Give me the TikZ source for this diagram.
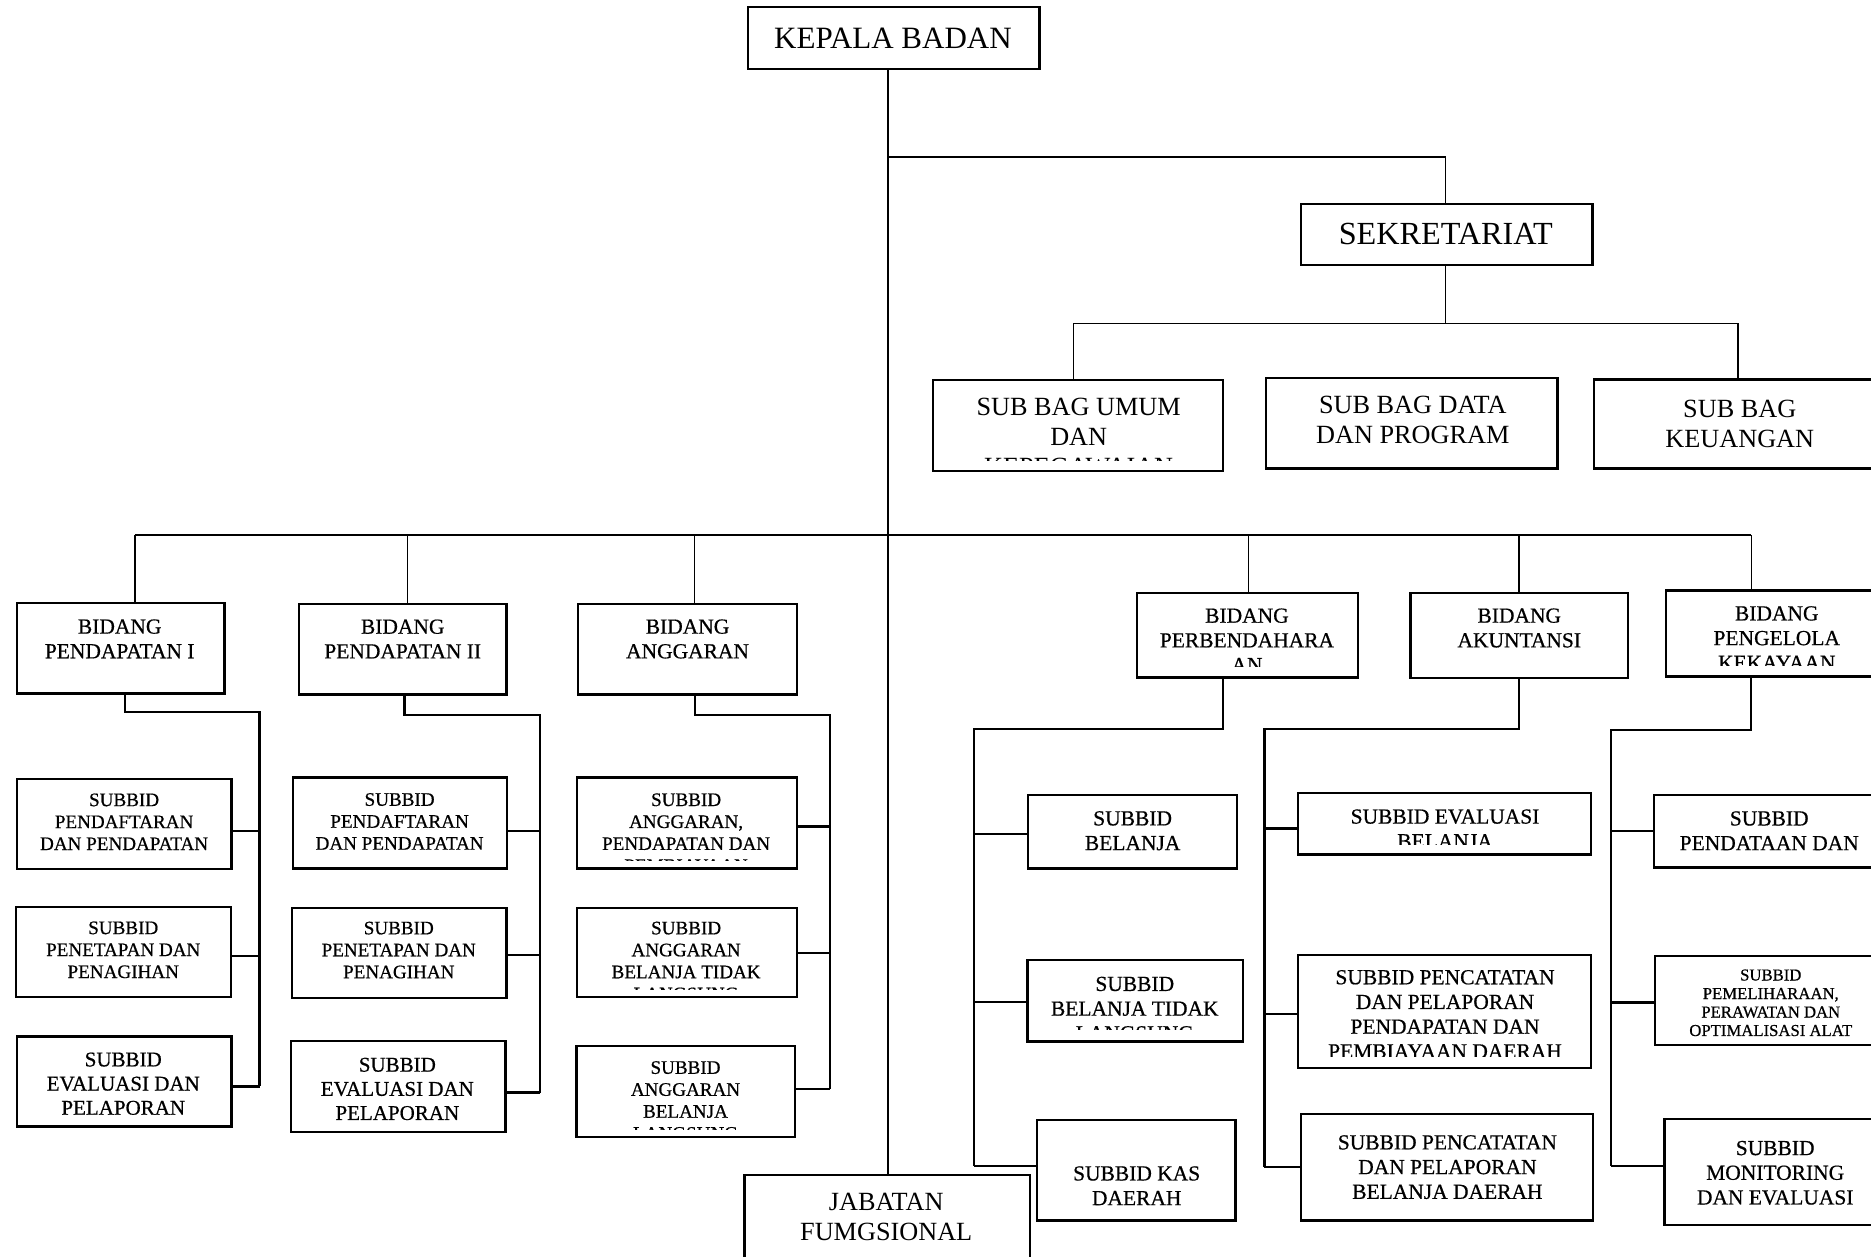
\documentclass[tikz,border=0pt]{standalone}
\usepackage{fontspec}
\setmainfont{Liberation Serif}
\newfontfamily\heavyser[FakeBold=0.6]{Liberation Serif}
\usetikzlibrary{fit}
\newcommand\obx[5]{\node[boxst, fit={(#2,#3) (#4,#5)}] (#1) {};}
\tikzset{
 boxst/.style={draw, line width=1pt, inner sep=0pt},
 lk/.style={line width=0.7pt},
 lkb/.style={line width=1pt},
 tx/.style={align=center, inner sep=0pt},
 fA/.style={tx, font=\fontsize{13}{15}\selectfont},
 fS/.style={tx, font=\fontsize{13.5}{15.5}\selectfont},
 fB/.style={tx, font=\fontsize{11}{12.65}\selectfont},
 fC/.style={tx, font=\heavyser\fontsize{9}{10.35}\selectfont},
 fD/.style={tx, font=\heavyser\fontsize{8}{9.2}\selectfont},
 fE/.style={tx, font=\heavyser\fontsize{8.8}{10.12}\selectfont},
 fF/.style={tx, font=\heavyser\fontsize{7}{7.75}\selectfont},
}
\begin{document}
\begin{tikzpicture}[x=0.5pt,y=-0.5pt]
\useasboundingbox (0,0) rectangle (1568,1053);
\fill[white] (0,0) rectangle (1568,1053);
\clip (0,0) rectangle (1568,1053);

% ---------- upper part ----------
\obx{kepala}{627}{6}{871}{58}
\node[fA] (kepalat) at (748.4,32.1) {KEPALA BADAN};
\obx{sekre}{1090.5}{171}{1334.6}{222}
\node[fS] (sekret) at (1211.6,196.5) {SEKRETARIAT};
\obx{umum}{782}{318.5}{1024.8}{394.5}
\begin{scope}
\clip (782,318.5) rectangle (1024.8,386);
\node[fB] (umumt) at (904,366.1) {SUB BAG UMUM\\DAN\\KEPEGAWAIAN};
\end{scope}
\obx{data}{1061}{317}{1305.2}{392.5}
\node[fB] (datat) at (1184,352) {SUB BAG DATA\\DAN PROGRAM};
\obx{keu}{1335.9}{318}{1600}{392.5}
\node[fB] (keut) at (1458,355.2) {SUB BAG\\KEUANGAN};

\obx{jab}{623.8}{984.8}{863.2}{1080}
\node[fB] (jabt) at (742.7,1019.8) {JABATAN\\FUMGSIONAL};

\coordinate (tk) at (744.4,0);
\draw[lk] (kepala.south -| tk) -- (jab.north -| tk);
\coordinate (c1) at (744.4,131.3);
\coordinate (c2) at (1211.3,131.3);
\draw[lk] (c1) -- (c2) -- (c2 |- sekre.north);
\coordinate (c3) at (1211.3,271);
\coordinate (c4) at (899.6,271);
\coordinate (c5) at (1456.7,271);
\draw[lk] (sekre.south -| c3) -- (c3);
\draw[lk] (c4) -- (c5);
\draw[lk] (c4) -- (c4 |- umum.north);
\draw[lk] (c5) -- (c5 |- keu.north);

% ---------- bidang ----------
\obx{bp1}{14.3}{505.6}{188}{581.3}
\node[fC] (bp1t) at (100.3,535.4) {BIDANG\\PENDAPATAN I};
\obx{bp2}{250.8}{506}{424.4}{582}
\node[fC] (bp2t) at (337.5,535.5) {BIDANG\\PENDAPATAN II};
\obx{bang}{484.3}{506}{667.8}{582}
\node[fC] (bangt) at (576.2,535.5) {BIDANG\\ANGGARAN};
\obx{bperb}{953}{497}{1138.3}{567.8}
\begin{scope}
\clip (953,497) rectangle (1138.3,558.5);
\node[fC] (bperbt) at (1045,536.6) {BIDANG\\PERBENDAHARA\\AN};
\end{scope}
\obx{bakun}{1182}{497}{1364.5}{568}
\node[fC] (bakunt) at (1273.2,526.3) {BIDANG\\AKUNTANSI};
\obx{bpeng}{1396}{495}{1600}{567}
\begin{scope}
\clip (1396,495) rectangle (1600,558);
\node[fC] (bpengt) at (1489,534.7) {BIDANG\\PENGELOLA\\KEKAYAAN};
\end{scope}

\coordinate (d1) at (113.1,448.5);
\coordinate (d2) at (341.6,448.5);
\coordinate (d3) at (582.1,448.5);
\coordinate (d4) at (1046.4,448.5);
\coordinate (d5) at (1273.2,448.5);
\coordinate (d6) at (1467.8,448.5);
\draw[lk] (d1) -- (d6);
\draw[lk] (d1) -- (d1 |- bp1.north);
\draw[lk] (d2) -- (d2 |- bp2.north);
\draw[lk] (d3) -- (d3 |- bang.north);
\draw[lk] (d4) -- (d4 |- bperb.north);
\draw[lk] (d5) -- (d5 |- bakun.north);
\draw[lk] (d6) -- (d6 |- bpeng.north);

% ---------- Pendapatan I ----------
\obx{s11}{14.3}{653}{194}{728.5}
\node[fD] (s11t) at (104,688.7) {SUBBID\\PENDAFTARAN\\DAN PENDAPATAN};
\obx{s12}{13.5}{760}{193.5}{835.7}
\node[fD] (s12t) at (103.3,796) {SUBBID\\PENETAPAN DAN\\PENAGIHAN};
\obx{s13}{14.3}{868.6}{194}{944}
\node[fE] (s13t) at (103.3,908.2) {SUBBID\\EVALUASI DAN\\PELAPORAN};
\coordinate (p1a) at (104.8,596.8);
\coordinate (p1b) at (217.6,596.8);
\coordinate (p1c) at (217.6,910.4);
\draw[lkb] (bp1.south -| p1a) -- (p1a) -- (p1b) -- (p1c);
\coordinate (p1y1) at (217.6,696.6);
\coordinate (p1y2) at (217.6,801.2);
\draw[lkb] (p1y1) -- (p1y1 -| s11.east);
\draw[lkb] (p1y2) -- (p1y2 -| s12.east);
\draw[lkb] (p1c) -- (p1c -| s13.east);

% ---------- Pendapatan II ----------
\obx{s21}{245.4}{651.6}{425}{728}
\node[fD] (s21t) at (334.9,688.4) {SUBBID\\PENDAFTARAN\\DAN PENDAPATAN};
\obx{s22}{244.8}{760.9}{424.4}{836.3}
\node[fD] (s22t) at (334.2,796.2) {SUBBID\\PENETAPAN DAN\\PENAGIHAN};
\obx{s23}{244}{872.2}{423.5}{948.5}
\node[fE] (s23t) at (333,912.6) {SUBBID\\EVALUASI DAN\\PELAPORAN};
\coordinate (p2a) at (339,599);
\coordinate (p2b) at (452.6,599);
\coordinate (p2c) at (452.6,915.6);
\draw[lkb] (bp2.south -| p2a) -- (p2a) -- (p2b) -- (p2c);
\coordinate (p2y1) at (452.6,696.6);
\coordinate (p2y2) at (452.6,800.4);
\draw[lkb] (p2y1) -- (p2y1 -| s21.east);
\draw[lkb] (p2y2) -- (p2y2 -| s22.east);
\draw[lkb] (p2c) -- (p2c -| s23.east);

% ---------- Anggaran ----------
\obx{s31}{483.6}{651.6}{667.8}{728}
\begin{scope}
\clip (483.6,651.6) rectangle (667.8,721.5);
\node[fD] (s31t) at (575,697.8) {SUBBID\\ANGGARAN,\\PENDAPATAN DAN\\PEMBIAYAAN};
\end{scope}
\obx{s32}{483.6}{760.9}{667.8}{835.7}
\begin{scope}
\clip (483.6,760.9) rectangle (667.8,829.5);
\node[fD] (s32t) at (575,805.4) {SUBBID\\ANGGARAN\\BELANJA TIDAK\\LANGSUNG};
\end{scope}
\obx{s33}{483}{876.6}{666.3}{953}
\begin{scope}
\clip (483,876.6) rectangle (666.3,946.5);
\node[fD] (s33t) at (574.5,922.3) {SUBBID\\ANGGARAN\\BELANJA\\LANGSUNG};
\end{scope}
\coordinate (p3a) at (582.5,599);
\coordinate (p3b) at (695.5,599);
\coordinate (p3c) at (695.5,912.7);
\draw[lkb] (bang.south -| p3a) -- (p3a) -- (p3b) -- (p3c);
\coordinate (p3y1) at (695.5,692.6);
\coordinate (p3y2) at (695.5,798.9);
\draw[lkb] (p3y1) -- (p3y1 -| s31.east);
\draw[lkb] (p3y2) -- (p3y2 -| s32.east);
\draw[lkb] (p3c) -- (p3c -| s33.east);

% ---------- Perbendaharaan ----------
\obx{r11}{861.6}{666.5}{1036.6}{727.9}
\node[fC] (r11t) at (949.2,696.2) {SUBBID\\BELANJA};
\obx{r12}{861}{804.6}{1041.5}{872.7}
\begin{scope}
\clip (861,804.6) rectangle (1041.5,862.5);
\node[fC] (r12t) at (951,845.3) {SUBBID\\BELANJA TIDAK\\LANGSUNG};
\end{scope}
\obx{r13}{869.2}{938.7}{1035.5}{1022.7}
\node[fC] (r13t) at (952.6,993.7) {SUBBID KAS\\DAERAH};
\coordinate (q1a) at (1025,611);
\coordinate (q1b) at (816,611);
\coordinate (q1c) at (816,977.4);
\draw[lkb] (bperb.south -| q1a) -- (q1a) -- (q1b) -- (q1c);
\coordinate (q1y1) at (816,698.9);
\coordinate (q1y2) at (816,839.5);
\draw[lkb] (q1y1) -- (q1y1 -| r11.west);
\draw[lkb] (q1y2) -- (q1y2 -| r12.west);
\draw[lkb] (q1c) -- (q1c -| r13.west);

% ---------- Akuntansi ----------
\obx{ra1}{1088}{664.6}{1333.4}{716}
\begin{scope}
\clip (1088,664.6) rectangle (1333.4,708);
\node[fC] (ra1t) at (1211,694.7) {SUBBID EVALUASI\\BELANJA};
\end{scope}
\obx{ra2}{1088}{800.4}{1333.4}{895}
\begin{scope}
\clip (1088,800.4) rectangle (1333.4,885.5);
\node[fC] (ra2t) at (1211,850) {SUBBID PENCATATAN\\DAN PELAPORAN\\PENDAPATAN DAN\\PEMBIAYAAN DAERAH};
\end{scope}
\obx{ra3}{1090.2}{933.6}{1335}{1022.9}
\node[fC] (ra3t) at (1213,978.1) {SUBBID PENCATATAN\\DAN PELAPORAN\\BELANJA DAERAH};
\coordinate (q2a) at (1272.8,610.7);
\coordinate (q2b) at (1059.7,610.7);
\coordinate (q2c) at (1059.7,978.2);
\draw[lkb] (bakun.south -| q2a) -- (q2a) -- (q2b) -- (q2c);
\coordinate (q2y1) at (1059.7,694.4);
\coordinate (q2y2) at (1059.7,849.8);
\draw[lkb] (q2y1) -- (q2y1 -| ra1.west);
\draw[lkb] (q2y2) -- (q2y2 -| ra2.west);
\draw[lkb] (q2c) -- (q2c -| ra3.west);

% ---------- Pengelola Kekayaan ----------
\obx{rp1}{1386}{666.5}{1600}{727}
\node[fC] (rp1t) at (1482.7,696.2) {SUBBID\\PENDATAAN DAN};
\obx{rp2}{1387}{801.2}{1600}{875.9}
\node[fF] (rp2t) at (1484,840.4) {SUBBID\\PEMELIHARAAN,\\PERAWATAN DAN\\OPTIMALISASI ALAT};
\obx{rp3}{1395}{937.8}{1600}{1026.6}
\node[fC] (rp3t) at (1487.7,982.9) {SUBBID\\MONITORING\\DAN EVALUASI};
\coordinate (q3a) at (1467.6,611.8);
\coordinate (q3b) at (1350.1,611.8);
\coordinate (q3c) at (1350.1,977.1);
\draw[lkb] (bpeng.south -| q3a) -- (q3a) -- (q3b) -- (q3c);
\coordinate (q3y1) at (1350.1,696.3);
\coordinate (q3y2) at (1350.1,840.2);
\draw[lkb] (q3y1) -- (q3y1 -| rp1.west);
\draw[lkb] (q3y2) -- (q3y2 -| rp2.west);
\draw[lkb] (q3c) -- (q3c -| rp3.west);
\end{tikzpicture}
\end{document}
